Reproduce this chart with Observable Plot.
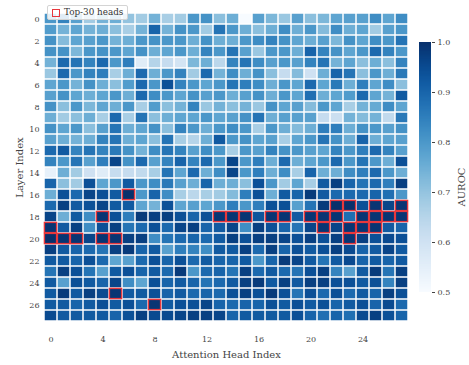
<!DOCTYPE html>
<html><head><meta charset="utf-8">
<script src="https://cdn.jsdelivr.net/npm/d3@7"></script>
<script src="https://cdn.jsdelivr.net/npm/@observablehq/plot@0.6"></script>
<style>
body{margin:0;background:#fff;}
#wrap{position:relative;width:469px;height:365px;font-family:"DejaVu Serif",serif;}
#wrap svg{position:absolute;top:0;overflow:visible;}
#main svg{left:0;}
#cb svg{left:409px;}
[aria-label$="axis label"], [aria-label$="axis label"] text{font-size:10px;}
#legend{position:absolute;left:47px;top:5px;width:81px;height:15px;box-sizing:border-box;background:rgba(255,255,255,0.85);border:1px solid #d4d4d4;border-radius:2px;font-size:8.8px;color:#333;}
#legend .sw{position:absolute;left:4px;top:3px;width:8px;height:8px;box-sizing:border-box;border:1.3px solid #e8383d;}
#legend .tx{position:absolute;left:16px;top:0.5px;white-space:nowrap;}
</style></head>
<body>
<div id="wrap"><div id="main"></div><div id="cb"></div>
<div id="legend"><span class="sw"></span><span class="tx">Top-30 heads</span></div></div>
<script>
const heads = d3.range(28);
const layers = d3.range(28);
const xTicks = [0,4,8,12,16,20,24];
const yTicks = [0,2,4,6,8,10,12,14,16,18,20,22,24,26];
const cbTicks = [0.5,0.6,0.7,0.8,0.9,1.0];
const cbLabel = ["AUROC"];
// AUROC per layer (rows) x head (columns)
const auroc = [
[0.80,0.84,0.78,0.68,0.74,0.75,0.70,0.68,0.74,0.67,0.68,0.80,0.81,0.71,0.75,0.50,0.78,0.73,0.69,0.78,0.71,0.73,0.77,0.78,0.78,0.82,0.77,0.82],
[0.79,0.74,0.77,0.74,0.75,0.71,0.67,0.74,0.90,0.74,0.81,0.80,0.68,0.87,0.80,0.75,0.71,0.75,0.82,0.75,0.80,0.72,0.82,0.75,0.77,0.68,0.78,0.80],
[0.81,0.72,0.77,0.78,0.80,0.74,0.75,0.80,0.81,0.80,0.80,0.75,0.81,0.75,0.75,0.80,0.82,0.84,0.81,0.77,0.75,0.78,0.73,0.81,0.77,0.82,0.80,0.87],
[0.81,0.81,0.73,0.80,0.81,0.80,0.77,0.81,0.75,0.77,0.80,0.75,0.84,0.80,0.87,0.78,0.69,0.80,0.80,0.75,0.90,0.84,0.81,0.77,0.80,0.89,0.84,0.80],
[0.74,0.89,0.87,0.84,0.89,0.80,0.85,0.56,0.65,0.62,0.59,0.73,0.75,0.64,0.84,0.87,0.82,0.78,0.80,0.78,0.84,0.87,0.74,0.77,0.71,0.75,0.71,0.84],
[0.69,0.89,0.80,0.84,0.85,0.67,0.75,0.89,0.75,0.80,0.84,0.68,0.89,0.74,0.82,0.75,0.81,0.71,0.62,0.72,0.60,0.75,0.90,0.87,0.71,0.80,0.75,0.86],
[0.77,0.80,0.74,0.81,0.75,0.71,0.79,0.89,0.80,0.94,0.84,0.80,0.77,0.80,0.87,0.85,0.82,0.75,0.80,0.77,0.89,0.77,0.86,0.75,0.85,0.77,0.82,0.71],
[0.78,0.81,0.77,0.75,0.77,0.80,0.75,0.89,0.82,0.80,0.77,0.81,0.78,0.80,0.75,0.78,0.81,0.75,0.80,0.77,0.88,0.75,0.77,0.79,0.89,0.77,0.74,0.92],
[0.81,0.71,0.80,0.73,0.77,0.75,0.80,0.67,0.79,0.71,0.74,0.84,0.69,0.74,0.71,0.74,0.69,0.81,0.77,0.78,0.72,0.80,0.77,0.67,0.74,0.76,0.82,0.77],
[0.75,0.68,0.71,0.75,0.67,0.89,0.67,0.87,0.71,0.75,0.77,0.77,0.80,0.77,0.78,0.81,0.87,0.75,0.78,0.78,0.78,0.62,0.61,0.74,0.72,0.74,0.63,0.86],
[0.81,0.77,0.80,0.71,0.78,0.87,0.75,0.77,0.81,0.71,0.84,0.80,0.75,0.80,0.82,0.80,0.67,0.80,0.75,0.72,0.75,0.85,0.85,0.75,0.81,0.80,0.78,0.81],
[0.78,0.75,0.74,0.75,0.84,0.87,0.75,0.77,0.71,0.87,0.67,0.65,0.75,0.92,0.80,0.81,0.77,0.78,0.67,0.77,0.80,0.87,0.81,0.75,0.90,0.75,0.77,0.78],
[0.89,0.92,0.84,0.87,0.84,0.86,0.81,0.74,0.82,0.87,0.84,0.78,0.82,0.80,0.67,0.80,0.78,0.84,0.81,0.80,0.78,0.77,0.84,0.80,0.85,0.89,0.84,0.78],
[0.84,0.80,0.87,0.78,0.85,0.96,0.81,0.89,0.78,0.84,0.90,0.84,0.89,0.80,0.96,0.80,0.85,0.75,0.89,0.75,0.77,0.80,0.89,0.80,0.87,0.80,0.75,0.94],
[0.54,0.75,0.68,0.60,0.56,0.62,0.62,0.63,0.67,0.87,0.77,0.89,0.75,0.82,0.96,0.80,0.85,0.75,0.82,0.67,0.90,0.75,0.75,0.82,0.85,0.89,0.80,0.75],
[0.90,0.71,0.68,0.94,0.77,0.80,0.92,0.80,0.82,0.86,0.78,0.75,0.90,0.75,0.75,0.71,0.94,0.80,0.68,0.77,0.67,0.92,0.97,0.90,0.87,0.89,0.85,0.97],
[0.75,0.94,0.89,0.96,0.94,0.92,1.00,0.80,0.90,0.82,0.67,0.64,0.67,0.68,0.72,0.85,0.94,0.75,0.92,0.90,0.98,0.92,0.89,0.89,0.89,0.90,0.88,0.80],
[0.89,0.97,0.92,0.94,0.96,0.92,0.92,0.77,0.74,0.94,0.77,0.78,0.77,0.80,0.85,0.80,0.85,0.94,0.94,0.78,0.87,0.98,1.00,1.00,0.94,0.99,0.96,0.99],
[0.96,0.75,0.92,0.82,0.99,0.94,0.85,0.98,0.97,0.97,0.94,0.90,0.94,0.99,0.99,0.99,0.93,0.99,0.99,0.92,0.99,0.99,0.99,0.88,0.99,0.99,0.99,0.99],
[0.99,0.92,0.97,0.82,0.94,0.97,0.87,0.89,0.94,0.89,0.96,0.97,0.90,0.92,0.96,0.82,0.97,0.94,0.90,0.87,0.96,0.99,0.96,0.99,0.99,0.99,0.92,0.90],
[1.00,0.99,0.99,0.96,0.99,0.99,0.97,0.97,0.82,0.87,0.89,0.90,0.89,0.92,0.97,0.94,0.97,0.97,0.96,0.94,0.97,0.94,0.97,0.99,0.97,0.94,0.95,0.94],
[0.97,0.92,0.90,0.89,0.87,0.97,0.98,0.90,0.92,0.78,0.85,0.84,0.82,0.92,0.92,0.97,0.89,0.97,0.90,0.94,0.92,0.94,0.97,0.95,0.90,0.92,0.96,0.92],
[0.92,0.92,0.90,0.94,0.89,0.77,0.78,0.89,0.94,0.90,0.94,0.89,0.92,0.90,0.90,0.92,0.80,0.90,0.98,0.96,0.92,0.87,0.92,0.95,0.90,0.92,0.90,0.92],
[0.87,0.97,0.94,0.87,0.78,0.92,0.94,0.90,0.92,0.89,0.98,0.80,0.89,0.90,0.87,0.97,0.89,0.92,0.89,0.87,0.94,0.97,0.84,0.78,0.92,0.98,0.87,0.97],
[0.92,0.78,0.94,0.92,0.90,0.96,0.82,0.77,0.94,0.90,0.92,0.90,0.87,0.89,0.92,0.97,0.98,0.92,0.97,0.92,0.97,0.97,0.94,0.94,0.92,0.94,0.84,0.97],
[0.92,0.98,0.92,0.97,0.95,0.99,0.92,0.92,0.94,0.90,0.92,0.89,0.90,0.89,0.94,0.97,0.94,0.98,0.94,0.87,0.94,0.89,0.94,0.89,0.92,0.90,0.97,0.94],
[0.92,0.92,0.90,0.92,0.94,0.92,0.94,0.89,0.99,0.92,0.94,0.94,0.96,0.90,0.89,0.90,0.90,0.94,0.92,0.94,0.92,0.94,0.90,0.92,0.94,0.90,0.95,0.89],
[0.95,0.92,0.92,0.92,0.92,0.90,0.94,0.97,0.95,0.95,0.96,0.97,0.97,0.96,0.90,0.92,0.92,0.92,0.92,0.94,0.90,0.88,0.90,0.88,0.95,0.97,0.94,0.90]
];
// highlighted heads: [layer, head]
const topHeads = [[16,6],[17,22],[17,23],[17,25],[17,27],[18,4],[18,13],[18,14],[18,15],[18,17],[18,18],[18,20],[18,21],[18,22],[18,24],[18,25],[18,26],[18,27],[19,0],[19,21],[19,23],[19,24],[19,25],[20,0],[20,1],[20,2],[20,4],[20,5],[20,23],[25,5],[26,8]];

const cells = [];
auroc.forEach((row, l) => row.forEach((v, h) => cells.push({layer: layers[l], head: heads[h], v})));
const tops = topHeads.map(([l, h]) => ({layer: l, head: h}));
const colorOpt = {type: "linear", scheme: "blues", domain: [0.5, 1]};

const main = Plot.plot({
  width: 469, height: 365,
  marginLeft: 43, marginRight: 60, marginTop: 2, marginBottom: 33,
  style: {fontFamily: "DejaVu Serif, serif", fontSize: "8px", color: "#444", background: "transparent"},
  x: {type: "band", domain: heads, padding: 0, tickSize: 0, tickPadding: 4,
      tickFormat: d => xTicks.includes(d) ? String(d) : "",
      label: "Attention Head Index", labelAnchor: "center", labelOffset: 25},
  y: {type: "band", domain: layers, padding: 0, tickSize: 0, tickPadding: 4,
      tickFormat: d => yTicks.includes(d) ? String(d) : "",
      label: "Layer Index", labelAnchor: "center", labelOffset: 28},
  color: colorOpt,
  marks: [
    Plot.cell(cells, {x: "head", y: "layer", fill: "v", inset: 0.75}),
    Plot.cell(tops, {x: "head", y: "layer", fill: "none", stroke: "#e8383d", strokeWidth: 1.4, inset: 0.4})
  ]
});
document.getElementById("main").appendChild(main);

const step = 0.0025;
const ramp = d3.range(0.5, 1.0, step).map(v => ({lo: v, hi: Math.min(1, v + step * 1.6)}));
const cb = Plot.plot({
  width: 60, height: 365,
  marginLeft: 10, marginRight: 38, marginTop: 42, marginBottom: 73,
  style: {fontFamily: "DejaVu Serif, serif", fontSize: "8px", color: "#444", background: "transparent"},
  x: {domain: [0, 1], axis: null},
  y: {domain: [0.5, 1], axis: null},
  color: colorOpt,
  marks: [
    Plot.rect(ramp, {x1: 0, x2: 1, y1: "lo", y2: "hi", fill: "lo"}),
    Plot.axisY(cbTicks, {anchor: "right", tickSize: 3, tickPadding: 3, tickFormat: d3.format(".1f"), label: null}),
    Plot.text(cbLabel, {frameAnchor: "right", rotate: -90, dx: 30, fontSize: 10, fill: "#444"})
  ]
});
document.getElementById("cb").appendChild(cb);
</script>
</body></html>
